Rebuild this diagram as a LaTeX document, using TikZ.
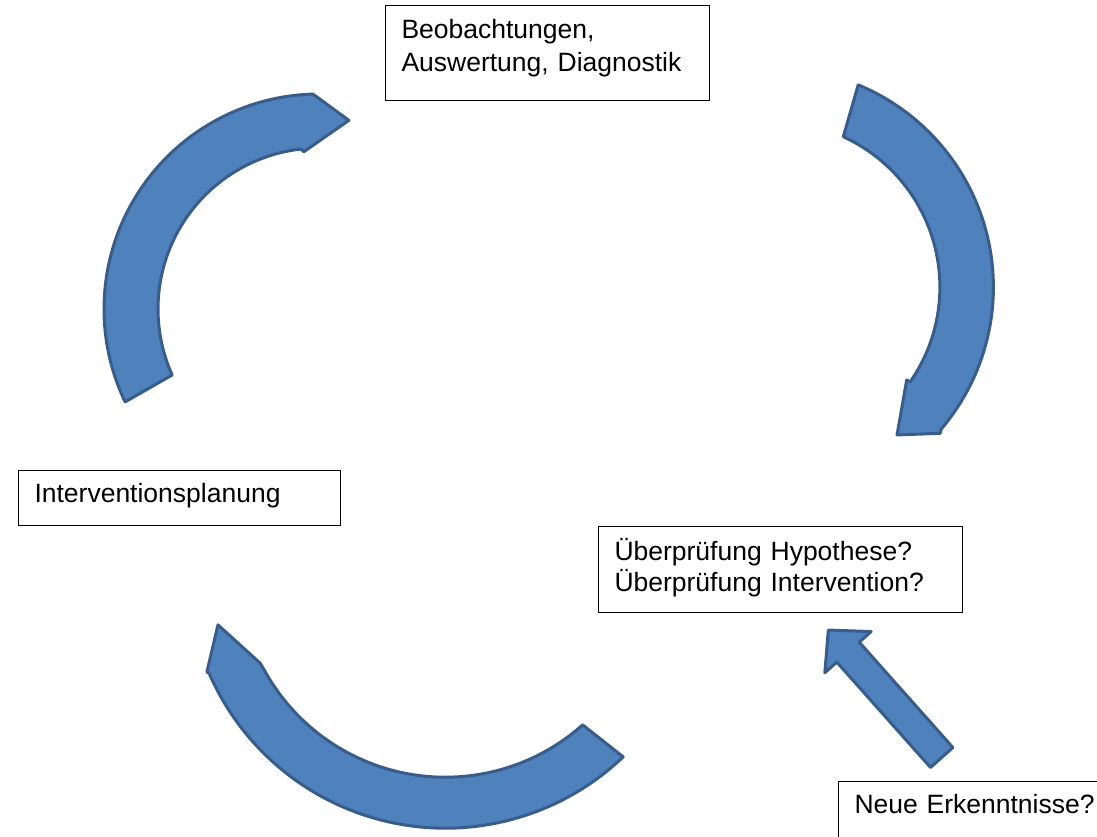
\documentclass[tikz,border=0pt]{standalone}
\usepackage{fontspec}
\setmainfont{Liberation Sans}
\usepackage{tikz}

\definecolor{arrowblue}{HTML}{4F81BD}
\definecolor{arrowedge}{HTML}{385D8A}

\tikzset{
	textbox/.style={draw=black,
		fill=white,
		line width=1pt,
		anchor=north west,
		inner xsep=16pt,
		inner ysep=0pt,
		align=left,
		font=\fontsize{26.5}{33}\selectfont},
	blockarrow/.style={fill=arrowblue,
		draw=arrowedge,
		line width=3pt,
		line join=round}
}

\begin{document}
\begin{tikzpicture}[x=1pt, y=1pt]
	\clip (0,0) rectangle (1097,-836);

	% Add the boxes
	\node[textbox,
		  text width=292pt,
		  text height=33pt,
		  text depth=62pt] (diag) at (385,-5) {Beobachtungen,\\Auswertung, Diagnostik};
	\node[textbox,
		  text width=290pt,
		  text height=32pt,
		  text depth=23pt] (plan) at (18,-470) {Interventionsplanung};
	\node[textbox,
		  text width=332pt,
		  text height=34pt,
		  text depth=52pt,
		  font=\fontsize{26.5}{31}\selectfont] (check) at (598,-526) {Überprüfung Hypothese?\\Überprüfung Intervention?};
	\node[textbox,
		  text width=268pt,
		  text height=32pt,
		  text depth=60pt] (neu) at (838,-781) {Neue Erkenntnisse?};

	% Add the curved arrows
	\draw[blockarrow, shift={(319,-309)}]
		(205.6:215) arc[start angle=205.6, end angle=91.6, radius=215]
		-- (81:191) -- (95.5:158) -- (96.5:161)
		arc[start angle=96.5, end angle=204.2, radius=161] -- cycle;
	\draw[blockarrow, shift={(774.4,-287.2)}]
		(67.5:219) arc[start angle=67.5, end angle=-40.4, radius=219]
		-- (-41.4:221) -- (-50.3:192) -- (-35.05:161.6) -- (-34.9:165.5)
		arc[start angle=-34.9, end angle=65.4, radius=165.5] -- cycle;
	\draw[blockarrow, shift={(445.3,-570.7)}]
		(-46.3:257.5) arc[start angle=-46.3, end angle=-156.5, radius=257.5]
		-- (-157:259) -- (-166.6:233.7) -- (-153.5:207) -- (-151.2:206.5)
		arc[start angle=-151.2, end angle=-48.3, radius=206.5] -- cycle;

	% Add the straight arrow
	\draw[blockarrow, shift={(941.7,-757.5)}, rotate=131.65]
		(0,-15) -- (141,-15) -- (141,-31) -- (170.6,0)
		-- (141,31) -- (141,15) -- (0,15) -- cycle;
\end{tikzpicture}
\end{document}
